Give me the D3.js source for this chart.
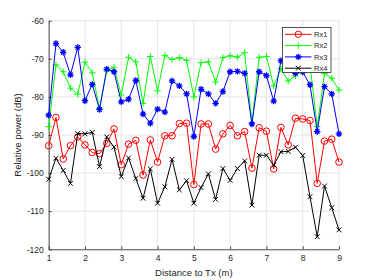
<!DOCTYPE html>
<html>
<head>
<meta charset="utf-8">
<script src="https://cdn.jsdelivr.net/npm/d3@7"></script>
<style>
  body { margin: 0; background: #fff; }
  svg { display: block; font-family: "Liberation Sans", Arial, sans-serif; }
</style>
</head>
<body>
<div id="chart"></div>
<script>
const distance = [1.0, 1.2, 1.4, 1.6, 1.8, 2.0, 2.2, 2.4, 2.6, 2.8,
    3.0, 3.2, 3.4, 3.6, 3.8, 4.0, 4.2, 4.4, 4.6, 4.8,
    5.0, 5.2, 5.4, 5.6, 5.8, 6.0, 6.2, 6.4, 6.6, 6.8,
    7.0, 7.2, 7.4, 7.6, 7.8, 8.0, 8.2, 8.4, 8.6, 8.8, 9.0];

const rx1 = [-92.8, -85.4, -96.3, -92.8, -90.5, -92.6, -94.6, -94.9, -92.2, -88.4,
    -97.8, -92.4, -91.4, -100.5, -91.3, -97.1, -90.2, -90.2, -87.0, -86.9,
    -103.0, -87.1, -87.1, -93.7, -89.7, -87.5, -90.2, -89.1, -98.7, -88.1,
    -89.0, -98.9, -88.0, -92.6, -85.6, -85.8, -86.2, -102.7, -91.6, -91.1, -97.1];

const rx2 = [-87.8, -71.6, -73.4, -77.7, -79.3, -70.9, -73.7, -83.0, -73.2, -72.2,
    -79.5, -69.6, -70.8, -81.7, -69.4, -78.4, -69.1, -70.2, -69.7, -70.4,
    -80.0, -71.0, -70.8, -76.1, -69.7, -69.2, -69.6, -68.4, -86.8, -69.6,
    -69.4, -77.1, -72.6, -75.8, -74.5, -72.5, -71.5, -87.8, -73.9, -75.1, -78.2];

const rx3 = [-84.8, -66.0, -68.3, -74.2, -67.0, -81.0, -76.7, -83.3, -72.7, -73.4,
    -81.3, -80.6, -75.7, -84.5, -86.9, -83.2, -84.0, -75.8, -77.1, -79.2,
    -90.4, -78.0, -79.2, -81.7, -78.6, -73.4, -73.3, -73.8, -87.1, -73.4,
    -74.4, -81.1, -70.5, -71.0, -73.8, -73.5, -76.8, -89.1, -77.3, -79.2, -89.7];

const rx4 = [-101.6, -96.1, -99.3, -102.7, -89.6, -89.7, -89.3, -98.3, -90.5, -93.2,
    -100.9, -96.0, -101.4, -106.6, -98.9, -107.9, -103.6, -96.4, -104.4, -102.0,
    -107.9, -103.8, -100.2, -106.9, -98.8, -101.9, -98.8, -96.8, -108.4, -95.3,
    -95.3, -97.9, -94.4, -94.3, -93.2, -95.4, -106.2, -116.7, -103.4, -109.1, -114.9];

const xTicks = [1, 2, 3, 4, 5, 6, 7, 8, 9];
const yTicks = [-120, -110, -100, -90, -80, -70, -60];

const series = [
    {name: "Rx1", values: rx1, color: "#ff0000", marker: "o"},
    {name: "Rx2", values: rx2, color: "#00ff00", marker: "+"},
    {name: "Rx3", values: rx3, color: "#0000ff", marker: "*"},
    {name: "Rx4", values: rx4, color: "#000000", marker: "x"}
];

const W = 374, H = 280;
const margin = {top: 20.7, right: 35, bottom: 30.7, left: 48.7};
const width = W - margin.left - margin.right,
    height = H - margin.top - margin.bottom;

const svg = d3.select("#chart")
    .append("svg")
    .attr("width", W).attr("height", H);

const g = svg.append("g")
    .attr("transform", `translate(${margin.left},${margin.top})`);

const x = d3.scaleLinear().domain([1, 9]).range([0, width]);
const y = d3.scaleLinear().domain([-120, -60]).range([height, 0]);

// grid
g.append("g").selectAll("line")
    .data(xTicks)
    .join("line")
    .attr("x1", d => x(d)).attr("x2", d => x(d))
    .attr("y1", 0).attr("y2", height)
    .attr("stroke", "#e6e6e6").attr("stroke-width", 1);
g.append("g").selectAll("line")
    .data(yTicks)
    .join("line")
    .attr("x1", 0).attr("x2", width)
    .attr("y1", d => y(d)).attr("y2", d => y(d))
    .attr("stroke", "#e6e6e6").attr("stroke-width", 1);

// axes
const xAxis = g.append("g")
    .attr("transform", `translate(0,${height})`)
    .call(d3.axisBottom(x).tickValues(xTicks).tickFormat(d3.format("d"))
        .tickSizeInner(-3).tickSizeOuter(0).tickPadding(6));
const yAxis = g.append("g")
    .call(d3.axisLeft(y).tickValues(yTicks).tickFormat(d => d)
        .tickSizeInner(-3).tickSizeOuter(0).tickPadding(5));
[xAxis, yAxis].forEach(a => {
    a.select(".domain").attr("stroke", "#262626").attr("stroke-width", 0.8);
    a.selectAll(".tick line").attr("stroke", "#262626").attr("stroke-width", 0.8);
    a.selectAll("text").attr("fill", "#262626").style("font-size", "8.5px")
        .style("font-family", "Liberation Sans, Arial, sans-serif");
});

// axis labels
g.append("text")
    .attr("x", width / 2).attr("y", height + 26.5)
    .attr("text-anchor", "middle")
    .attr("fill", "#262626")
    .style("font-size", "9.5px")
    .text("Distance to Tx (m)");
g.append("text")
    .attr("transform", `translate(${-28},${height / 2}) rotate(-90)`)
    .attr("text-anchor", "middle")
    .attr("fill", "#262626")
    .style("font-size", "9.5px")
    .text("Relative power (dB)");

function markerPath(type, s) {
    if (type === "o") {
        return `M${-s},0A${s},${s} 0 1,0 ${s},0A${s},${s} 0 1,0 ${-s},0Z`;
    }
    if (type === "+") {
        return `M${-s},0H${s}M0,${-s}V${s}`;
    }
    if (type === "x") {
        const a = s * 0.75;
        return `M${-a},${-a}L${a},${a}M${-a},${a}L${a},${-a}`;
    }
    const a = s * 0.7;
    return `M${-s},0H${s}M0,${-s}V${s}M${-a},${-a}L${a},${a}M${-a},${a}L${a},${-a}`;
}

const line = d3.line()
    .x((d, i) => x(distance[i]))
    .y(d => y(d));

series.forEach(s => {
    g.append("path")
        .datum(s.values)
        .attr("fill", "none")
        .attr("stroke", s.color)
        .attr("stroke-width", 1)
        .attr("stroke-linejoin", "round")
        .attr("d", line);
    const size = s.marker === "o" ? 3.3 : 3.2;
    g.append("g").selectAll("path")
        .data(s.values)
        .join("path")
        .attr("transform", (d, i) => `translate(${x(distance[i])},${y(d)})`)
        .attr("d", markerPath(s.marker, size))
        .attr("fill", "none")
        .attr("stroke", s.color)
        .attr("stroke-width", s.marker === "*" ? 1.3 : 1);
});

// legend
const lg = svg.append("g").attr("transform", "translate(282.5,27.5)");
lg.append("rect")
    .attr("width", 48.5).attr("height", 45)
    .attr("fill", "#fff")
    .attr("stroke", "#262626").attr("stroke-width", 0.8);
series.forEach((s, i) => {
    const yy = 6.8 + i * 11.3;
    lg.append("line")
        .attr("x1", 2.5).attr("x2", 29)
        .attr("y1", yy).attr("y2", yy)
        .attr("stroke", s.color).attr("stroke-width", 1);
    lg.append("path")
        .attr("transform", `translate(15.8,${yy})`)
        .attr("d", markerPath(s.marker, 3.2))
        .attr("fill", "none")
        .attr("stroke", s.color)
        .attr("stroke-width", s.marker === "*" ? 1.3 : 1);
    lg.append("text")
        .attr("x", 31.5).attr("y", yy)
        .attr("dy", "0.35em")
        .attr("fill", "#262626")
        .style("font-size", "7.5px")
        .text(s.name);
});
</script>
</body>
</html>
